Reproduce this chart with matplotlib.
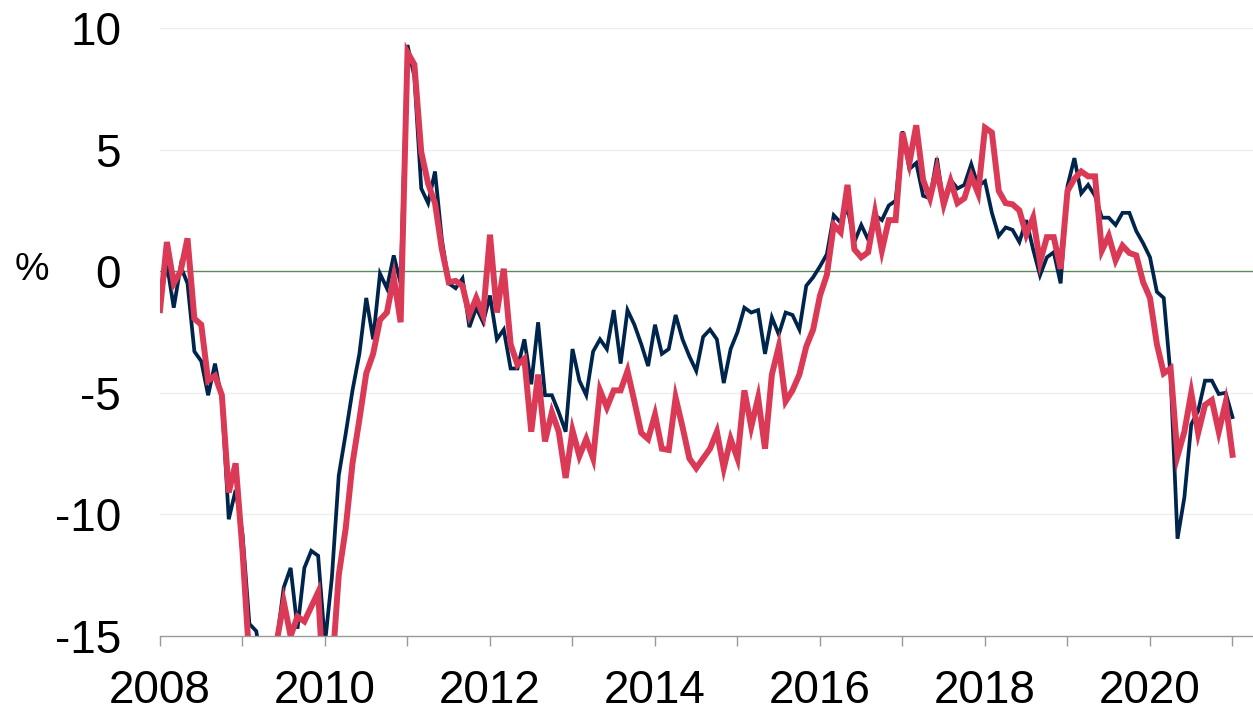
import numpy as np
import matplotlib
matplotlib.use("Agg")
import matplotlib.pyplot as plt

plt.rcParams['font.family'] = ['Liberation Sans', 'DejaVu Sans']
plt.rcParams['axes.unicode_minus'] = False

start_year = 2008
navy = [
    -1.2, 0.3, -1.5, 0.2, -0.5, -3.3, -3.7, -5.1, -3.8, -5.3, -10.2, -9.0,
    -10.8, -14.5, -14.8, -16.5, -16.5, -15.2, -13.0, -12.2, -14.7, -12.2, -11.5, -11.7,
    -15.3, -12.6, -8.4, -6.7, -4.9, -3.4, -1.1, -2.8, -0.1, -0.7, 0.65, -0.5,
    9.3, 8.0, 3.4, 2.8, 4.1, 1.3, -0.5, -0.7, -0.3, -2.3, -1.5, -2.1,
    -1.0, -2.8, -2.4, -4.0, -4.0, -2.8, -4.65, -2.1, -5.1, -5.1, -5.8, -6.6,
    -3.2, -4.5, -5.1, -3.3, -2.8, -3.2, -1.6, -3.8, -1.6, -2.2, -3.0, -3.9,
    -2.2, -3.4, -3.2, -1.8, -2.8, -3.5, -4.1, -2.7, -2.4, -2.8, -4.6, -3.2,
    -2.5, -1.5, -1.7, -1.6, -3.4, -1.9, -2.6, -1.7, -1.8, -2.4, -0.6, -0.25,
    0.2, 0.7, 2.3, 2.0, 2.6, 1.2, 1.9, 1.3, 2.3, 2.1, 2.7, 2.9,
    5.75, 4.2, 4.45, 3.1, 3.0, 4.65, 2.7, 3.75, 3.4, 3.55, 4.4, 3.5,
    3.7, 2.4, 1.45, 1.8, 1.7, 1.2, 2.1, 0.9, -0.17, 0.57, 0.78, -0.5,
    3.5, 4.65, 3.2, 3.55, 3.1, 2.2, 2.2, 1.9, 2.4, 2.4, 1.65, 1.15,
    0.57, -0.85, -1.1, -4.3, -11.0, -9.3, -6.3, -5.75, -4.5, -4.5, -5.05, -5.0,
    -6.0,
]
red = [
    -1.6, 1.2, -0.5, 0.0, 1.35, -1.95, -2.2, -4.5, -4.3, -5.1, -9.1, -7.9,
    -11.5, -16.0, -18.0, -19.0, -18.0, -15.2, -13.6, -15.0, -14.2, -14.4, -13.8, -13.2,
    -18.0, -16.5, -12.5, -10.6, -7.9, -6.1, -4.2, -3.4, -2.0, -1.7, -0.25, -2.1,
    9.0, 8.5, 4.9, 3.6, 2.8, 0.9, -0.45, -0.4, -0.6, -1.8, -1.1, -1.8,
    1.5, -1.7, 0.1, -3.0, -3.85, -3.6, -6.6, -4.25, -7.0, -5.8, -6.6, -8.5,
    -6.55, -7.6, -6.9, -7.7, -4.9, -5.6, -4.9, -4.9, -4.1, -5.35, -6.65, -6.9,
    -5.9, -7.3, -7.35, -5.2, -6.4, -7.7, -8.1, -7.7, -7.3, -6.6, -8.1, -6.9,
    -7.7, -4.9, -6.4, -5.2, -7.3, -4.25, -3.1, -5.35, -4.9, -4.25, -3.1, -2.4,
    -1.0, -0.15, 1.9, 1.6, 3.55, 0.9, 0.57, 0.78, 2.4, 0.85, 2.1, 2.1,
    5.7, 4.45, 6.0, 3.75, 3.0, 4.2, 2.75, 3.7, 2.8, 3.0, 3.9, 3.2,
    5.9, 5.7, 3.3, 2.8, 2.75, 2.5, 1.5, 2.2, 0.37, 1.4, 1.4, 0.1,
    3.3, 3.8, 4.1, 3.9, 3.9, 0.85, 1.45, 0.45, 1.05, 0.75, 0.65, -0.45,
    -1.1, -3.0, -4.2, -4.0, -7.6, -6.6, -5.0, -6.65, -5.5, -5.3, -6.6, -5.4,
    -7.55,
]
year_ticks = list(range(2008, 2022))
year_labels = [str(y) if y % 2 == 0 else '' for y in year_ticks]
y_ticks = [10, 5, 0, -5, -10, -15]
y_labels = ['10', '5', '0', '-5', '-10', '-15']

x = start_year + np.arange(len(navy)) / 12.0

fig = plt.figure(figsize=(12.53, 7.15), dpi=100)
ax = fig.add_axes([160/1253, 1 - 636/715, 1 - 160/1253, (636 - 28)/715])

for gy in [10, 5, -5, -10]:
    ax.axhline(gy, color='#eeeeee', lw=1.0, zorder=0)
ax.axhline(0, color='#5b8a5b', lw=1.0, zorder=1)

ax.plot(x, navy, color='#00254d', lw=2.7, zorder=3, solid_joinstyle='miter')
ax.plot(x, red, color='#da3a56', lw=4.3, zorder=4, solid_joinstyle='miter')

ax.set_xlim(2008, 2008 + 1093/82.5)
ax.set_ylim(-15, 10)
ax.set_xticks(year_ticks)
ax.set_xticklabels(year_labels, fontsize=33)
ax.set_yticks(y_ticks)
ax.set_yticklabels(y_labels, fontsize=33)
ax.tick_params(axis='y', length=0, pad=28)
ax.tick_params(axis='x', length=7.5, width=1, color='#999999', pad=16)

for s in ['left', 'top', 'right']:
    ax.spines[s].set_visible(False)
ax.spines['bottom'].set_color('#999999')
ax.spines['bottom'].set_linewidth(1.0)
ax.spines['bottom'].set_zorder(5)

fig.text(32/1253, 1 - 270/715, '%', fontsize=28, ha='center', va='center')

fig.savefig('out.png', dpi=100)
